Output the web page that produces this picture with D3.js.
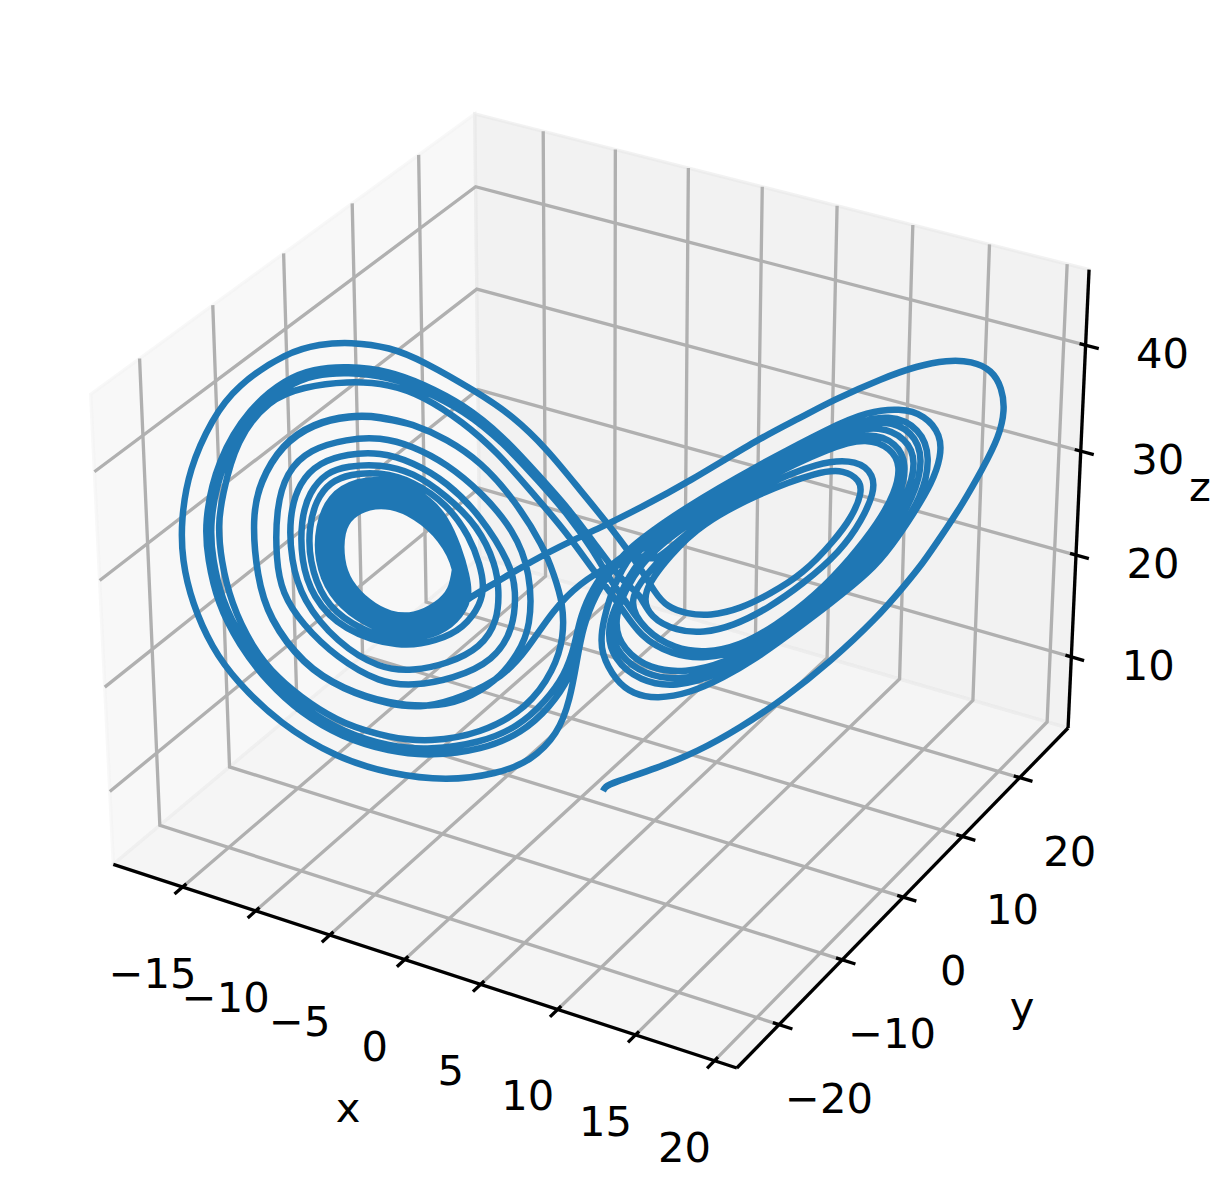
<!DOCTYPE html>
<html>
<head>
<meta charset="utf-8">
<script src="https://cdnjs.cloudflare.com/ajax/libs/d3/7.9.0/d3.min.js"></script>
<style>
html,body{margin:0;padding:0;background:#fff;overflow:hidden}
text{font-family:"DejaVu Sans",sans-serif;font-size:41.67px;fill:#000}
</style>
</head>
<body>
<svg id="chart" width="1220" height="1203"></svg>
<script>
// axis limits and ticks
const xLimits = [-19.8, 21.4];
const yLimits = [-26.5, 28.7];
const zLimits = [2.9, 47.0];
const xTicks = [-15, -10, -5, 0, 5, 10, 15, 20];
const yTicks = [-20, -10, 0, 10, 20];
const zTicks = [10, 20, 30, 40];
const axisNames = ["x", "y", "z"];

// The curve is read off a flat picture, so depth is unavailable: each leg lists
// [horizontal, vertical] readings in the picture plane of the figure.
const legStart = [[603,791],[605,787],[612,783],[657,768],[697,752],[740,728],[785,698],[830,662],[877,618],[905,585],[923,563],[942,535],[962,505],[983,468],[999,437],[1005,410],[1002,388],[992,370],[972,361],[947,360],[917,366],[883,378],[833,400],[800,418],[760,438],[687,483],[640,508],[600,528],[560,546],[520,568],[490,586],[470,597]];
const legEntry = [[453,612],[425,626],[390,627],[361,613],[337,590],[327,560],[327,528],[338,504],[361,491],[390,490],[414,500],[445,523],[458,548]];
const ringA = [[455,570],[452,590],[438,605],[414,617],[390,615],[369,604],[348,582],[341,561],[341,531],[351,515],[369,506],[390,505],[415,515],[442,538]];
const ringB = [[458,571],[455,592],[441,609],[415,621],[390,620],[366,608],[344,585],[336,561],[336,529],[346,511],[366,500],[390,499],[415,509],[444,532]];
const ringC = [[460,572],[457,594],[442,612],[416,624],[390,623],[364,610],[340,587],[331,561],[332,529],[342,507],[364,495],[390,494],[414,504],[445,527]];
const ringD = [[463,573],[460,596],[444,616],[418,626],[390,627],[361,613],[337,590],[327,560],[327,528],[338,504],[361,491],[390,490],[414,500],[445,523]];
const ringE = [[465,574],[462,598],[445,619],[419,629],[390,630],[359,615],[333,592],[322,560],[323,528],[334,500],[359,486],[390,485],[413,495],[446,518]];
const ringF = [[467,575],[464,600],[447,622],[420,633],[390,635],[357,619],[330,595],[317,560],[318,527],[329,496],[357,480],[390,479],[413,489],[447,512]];
const ringG = [[470,582],[468,604],[452,626],[425,638],[390,641],[350,624],[323,601],[309,560],[309,527],[316,500],[330,482],[350,474],[380,472],[413,481],[447,504],[470,537],[480,565]];
const ringH = [[484,585],[481,604],[464,628],[437,641],[400,648],[343,631],[312,597],[301,560],[301,520],[309,492],[327,472],[347,466],[380,464],[413,472],[447,496],[478,526],[496,565]];
const ringI = [[499,590],[498,620],[481,648],[447,664],[413,671],[380,669],[337,643],[302,600],[291,560],[289,517],[299,482],[320,462],[347,454],[380,452],[413,462],[447,482],[481,516],[511,565]];
const ringJ = [[516,590],[514,628],[494,661],[453,679],[413,686],[380,683],[337,658],[302,624],[282,593],[276,560],[276,510],[286,472],[310,449],[347,439],[380,437],[413,446],[447,464],[481,492],[514,530],[531,573]];
const ringK = [[531,627],[518,654],[497,681],[463,701],[430,707],[390,704],[343,689],[303,664],[269,618],[257,577],[252,517],[260,481],[282,444],[313,423],[350,415],[380,416],[413,424],[447,439],[481,462],[514,499],[544,547]];
const ringL = [[554,575],[563,603],[564,637],[554,670],[528,708],[480,734],[430,742],[390,738],[343,724],[310,704],[277,678],[252,647],[231,603],[221,560],[218,525],[222,497],[236,440],[269,399],[303,387],[347,381],[390,384],[423,396],[463,422],[497,452],[530,490],[567,533],[593,570]];
const ringM = [[610,565],[593,587],[580,617],[575,645],[565,675],[545,702],[518,727],[480,743],[430,750],[390,747],[343,732],[305,709],[272,679],[242,641],[221,598],[213,560],[209,525],[221,463],[254,411],[288,385],[314,375],[347,372],[390,377],[423,390],[463,410],[503,442],[540,483],[567,513],[593,550],[610,580]];
const ringN = [[612,568],[600,583],[585,617],[580,645],[570,678],[550,707],[522,733],[482,750],[430,756],[390,752],[341,737],[301,713],[268,683],[239,645],[217,602],[208,560],[204,523],[217,460],[250,407],[286,379],[313,369],[347,366],[390,371],[423,384],[463,404],[503,436],[540,477],[568,508],[595,544],[625,585]];
const ringO = [[612,570],[595,595],[583,627],[577,660],[570,700],[558,734],[531,761],[497,774],[447,781],[390,774],[337,758],[280,724],[236,681],[212,648],[192,603],[182,560],[181,520],[189,469],[212,419],[236,386],[287,352],[320,344],[350,342],[390,347],[423,361],[477,392],[513,416],[547,449],[580,490],[613,530],[640,567]];
const lobeR1 = [[655,593],[667,607],[687,614],[710,616],[740,609],[770,594],[803,574],[834,541],[852,517],[862,493],[860,480],[844,470],[820,471],[757,494],[700,525],[672,553]];
const lobeR2 = [[640,593],[650,618],[677,631],[703,633],[733,626],[767,609],[803,584],[841,551],[862,520],[874,493],[874,475],[858,460],[820,461],[757,488],[687,530],[655,565]];
const lobeR3 = [[625,600],[645,631],[675,649],[705,653],[740,646],[775,626],[815,596],[851,558],[878,523],[895,493],[901,466],[891,448],[867,438],[833,446],[757,482],[687,524],[640,560]];
const lobeR4 = [[620,605],[640,637],[672,655],[705,659],[742,651],[778,631],[818,601],[856,561],[883,526],[901,495],[907,464],[897,443],[870,432],[833,442],[757,478],[687,520],[635,558]];
const lobeR5 = [[610,620],[624,651],[650,669],[685,673],[725,663],[765,641],[805,613],[846,576],[881,537],[907,497],[917,461],[906,438],[880,426],[845,431],[757,474],[687,516],[630,558]];
const lobeR6 = [[606,625],[619,656],[645,675],[680,681],[722,669],[762,648],[802,619],[851,579],[889,537],[914,497],[924,459],[913,431],[885,420],[850,426],[757,471],[687,512],[625,555]];
const lobeR7 = [[603,625],[614,661],[640,681],[675,688],[720,674],[760,653],[800,624],[859,581],[896,537],[922,497],[931,457],[920,428],[890,414],[850,423],[757,468],[687,509],[625,550]];
const lobeR8 = [[600,627],[601,654],[616,681],[633,694],[657,699],[690,693],[723,678],[757,658],[790,634],[830,604],[871,571],[891,547],[914,513],[932,483],[941,457],[941,435],[925,415],[900,408],[867,412],[833,426],[757,466],[687,506],[625,550]];
const legFinal = [[640,552],[610,565],[580,583],[553,610],[527,650],[503,677],[463,697],[425,708],[390,705],[343,690],[303,665],[269,619],[257,578],[252,518],[260,482],[282,445],[313,424],[350,416],[380,417],[413,425]];

const tracePath = [].concat(
  legStart, legEntry, ringA, ringB, ringC, ringD, ringE, ringF, ringG, ringH, ringI, ringJ, ringK, ringL,
  lobeR4, lobeR6, ringM, lobeR3, lobeR5, ringN, lobeR2, lobeR3, lobeR7, lobeR8, ringO, lobeR1, lobeR2, legFinal
);

// styling
const W = 1220, H = 1203;
const curveColor = "#1f77b4", gridColor = "#b0b0b0";

const svg = d3.select("#chart");

// unit-box scales
const sx = d3.scaleLinear().domain(xLimits).range([0, 1]);
const sy = d3.scaleLinear().domain(yLimits).range([0, 1]);
const sz = d3.scaleLinear().domain(zLimits).range([0, 1]);

// matplotlib-style camera: elev 30, azim -60, dist 10
const box = [1.1905, 1.1905, 0.8929];
const camU = [0.8660254, 0.5, 0];
const camV = [-0.25, 0.4330127, 0.8660254];
const camW = [0.4330127, -0.75, 0.5];
const dot = (a, b) => a[0]*b[0] + a[1]*b[1] + a[2]*b[2];
const viewX = d3.scaleLinear().domain([0, 1]).range([599.5, 6599.5]);
const viewY = d3.scaleLinear().domain([0, 1]).range([568, -5432]);
function project(u, v, w) {
  const d = [(u - 0.5)*box[0], (v - 0.5)*box[1], (w - 0.5)*box[2]];
  const depth = 10 - dot(camW, d);
  return [viewX(dot(camU, d)/depth), viewY(dot(camV, d)/depth)];
}
const line = d3.line();
const poly = pts => line(pts.map(p => project(p[0], p[1], p[2])));

// panes
const panes = [
  {pts: [[0,0,0],[0,1,0],[0,1,1],[0,0,1]], c: "rgba(242,242,242,0.5)"},
  {pts: [[0,1,0],[1,1,0],[1,1,1],[0,1,1]], c: "rgba(230,230,230,0.5)"},
  {pts: [[0,0,0],[1,0,0],[1,1,0],[0,1,0]], c: "rgba(236,236,236,0.5)"}
];
svg.append("g").selectAll("path").data(panes).join("path")
  .attr("d", d => poly(d.pts) + "Z")
  .attr("fill", d => d.c).attr("stroke", d => d.c).attr("stroke-width", 3.3);

// grid lines
const grid = svg.append("g").attr("fill", "none").attr("stroke", gridColor).attr("stroke-width", 3.33);
xTicks.forEach(t => { const u = sx(t); grid.append("path").attr("d", poly([[u,0,0],[u,1,0],[u,1,1]])); });
yTicks.forEach(t => { const v = sy(t); grid.append("path").attr("d", poly([[1,v,0],[0,v,0],[0,v,1]])); });
zTicks.forEach(t => { const w = sz(t); grid.append("path").attr("d", poly([[0,0,w],[0,1,w],[1,1,w]])); });

// axis lines and ticks
const axes = svg.append("g").attr("fill", "none").attr("stroke", "#000").attr("stroke-width", 3.33);
axes.append("path").attr("d", poly([[0,0,0],[1,0,0]]));
axes.append("path").attr("d", poly([[1,0,0],[1,1,0]]));
axes.append("path").attr("d", poly([[1,1,0],[1,1,1]]));
const tickOut = 0.0205, tickIn = 0.0095;
xTicks.forEach(t => { const u = sx(t); axes.append("path").attr("d", poly([[u,-tickOut,0],[u,tickIn,0]])); });
yTicks.forEach(t => { const v = sy(t); axes.append("path").attr("d", poly([[1+tickOut,v,0],[1-tickIn,v,0]])); });
zTicks.forEach(t => { const w = sz(t); axes.append("path").attr("d", poly([[1+tickOut,1,w],[1-tickIn,1,w]])); });

// tick labels
const fmt = v => (v < 0 ? "\u2212" : "") + Math.abs(v);
const labels = svg.append("g").attr("text-anchor", "middle");
function tickLabel(p, dx, dy, v) {
  labels.append("text").attr("x", p[0] + dx).attr("y", p[1] + dy + 15).text(fmt(v));
}
xTicks.forEach(t => tickLabel(project(sx(t), 0, 0), -30, 86, t));
yTicks.forEach(t => tickLabel(project(1, sy(t), 0), 50, 73, t));
zTicks.forEach(t => tickLabel(project(1, 1, sz(t)), 77, 8, t));

// axis names
labels.selectAll("text.name").data(axisNames).join("text").attr("class", "name")
  .attr("x", (d, i) => [348, 1022, 1200][i])
  .attr("y", (d, i) => [1122, 1021, 501][i])
  .text(d => d);

// the curve
const planeX = d3.scaleLinear().domain([0, 1220]).range([0, W]);
const planeY = d3.scaleLinear().domain([0, 1203]).range([0, H]);
const traceLine = d3.line().x(d => planeX(d[0])).y(d => planeY(d[1])).curve(d3.curveBasis);
svg.append("path").datum(tracePath)
  .attr("d", traceLine)
  .attr("fill", "none")
  .attr("stroke", curveColor)
  .attr("stroke-width", 6.5)
  .attr("stroke-linejoin", "round");
</script>
</body>
</html>
